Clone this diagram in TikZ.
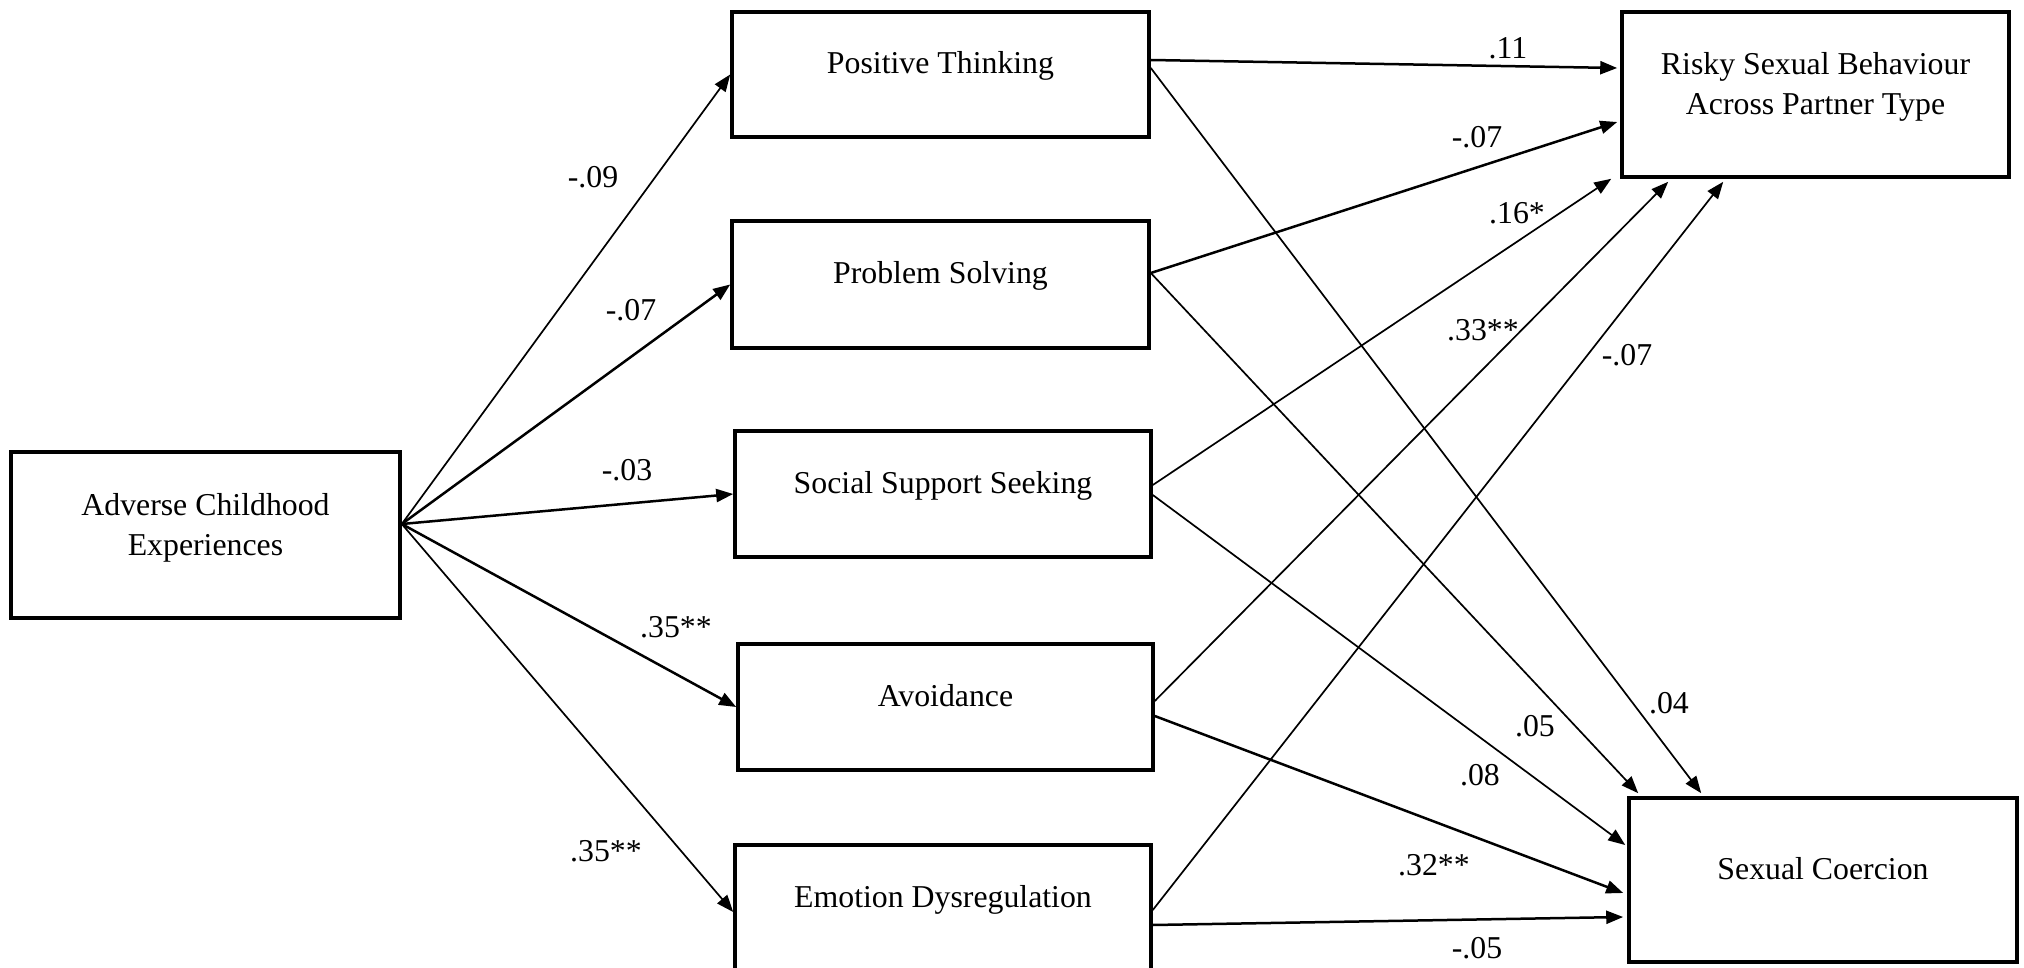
\documentclass[tikz,border=0pt]{standalone}
\usepackage{fontspec}
\setmainfont{Liberation Serif}
\usetikzlibrary{arrows.meta,calc}
\newcommand{\bxt}[2]{\smash{\raisebox{#1}{\begin{tabular}[b]{@{}c@{}}#2\end{tabular}}}}
\begin{document}
\begin{tikzpicture}[x=0.5pt,y=-0.5pt,
  font=\fontsize{15.9}{20}\selectfont,
  box/.style={draw,line width=1.8pt,inner sep=0pt},
  thinarr/.style={line width=0.85pt,-{Triangle[length=8.5pt,width=6.5pt]}},
  thickarr/.style={line width=1.25pt,-{Triangle[length=8.5pt,width=6.5pt]}},
  lab/.style={inner sep=0pt}]
\useasboundingbox (0,0) rectangle (2024,968);
% boxes
\node[box,minimum width=194.5pt,minimum height=83pt] (ace) at (205.5,535) {\bxt{-10pt}{Adverse Childhood\\Experiences}};
\node[box,minimum width=208.5pt,minimum height=62.5pt] (pt) at (940.5,74.5) {\bxt{0.5pt}{Positive Thinking}};
\node[box,minimum width=208.5pt,minimum height=63.5pt] (ps) at (940.5,284.5) {\bxt{0.5pt}{Problem Solving}};
\node[box,minimum width=208pt,minimum height=63pt] (sss) at (943,494) {\bxt{0.5pt}{Social Support Seeking}};
\node[box,minimum width=207.5pt,minimum height=63pt] (av) at (945.5,707) {\bxt{0.5pt}{Avoidance}};
\node[box,minimum width=208pt,minimum height=63pt] (ed) at (943,908) {\bxt{0.5pt}{Emotion Dysregulation}};
\node[box,minimum width=193.5pt,minimum height=82.5pt] (rsb) at (1815.5,94.5) {\bxt{-10pt}{Risky Sexual Behaviour\\Across Partner Type}};
\node[box,minimum width=194pt,minimum height=82pt] (sc) at (1823,880) {\bxt{0.5pt}{Sexual Coercion}};
% ACE arrows
\coordinate (a0) at ($(ace.east)+(0,-11)$);
\draw[thinarr] (a0) -- (pt.west);
\draw[thickarr] (a0) -- (ps.west);
\draw[thickarr] (a0) -- (sss.west);
\draw[thickarr] (a0) -- (av.west);
\draw[thinarr] (a0) -- ($(ed.west)+(0,4)$);
% to Risky
\draw[thickarr] ($(pt.east)+(0,-14.5)$) -- ($(rsb.west)+(-3,-26.5)$);
\draw[thickarr] ($(ps.east)+(0,-11.5)$) -- ($(rsb.west)+(-3,27.5)$);
\draw[thinarr] ($(sss.east)+(0,-9)$) -- ($(rsb.south west)+(-9,0)$);
\draw[thinarr] ($(av.east)+(0,-6)$) -- ($(rsb.south west)+(48,3)$);
\draw[thinarr] ($(ed.east)+(0,2)$) -- ($(rsb.south west)+(103,3)$);
% to Sexual Coercion
\draw[thinarr] ($(pt.east)+(0,-6.5)$) -- ($(sc.north west)+(74,-3)$);
\draw[thinarr] ($(ps.east)+(0,-11.5)$) -- ($(sc.north west)+(11,-3)$);
\draw[thinarr] ($(sss.east)+(0,1)$) -- ($(sc.west)+(-2,-35)$);
\draw[thickarr] ($(av.east)+(0,9)$) -- ($(sc.west)+(-4,13)$);
\draw[thickarr] ($(ed.east)+(0,17)$) -- ($(sc.west)+(-4,37)$);
% labels
\node[lab] (l1) at (593,177) {-.09};
\node[lab] (l2) at (631,310) {-.07};
\node[lab] (l3) at (627,470) {-.03};
\node[lab] (l4) at (676,627) {.35**};
\node[lab] (l5) at (606,851) {.35**};
\node[lab] (l6) at (1508,48) {.11};
\node[lab] (l7) at (1477,137) {-.07};
\node[lab] (l8) at (1517,213) {.16*};
\node[lab] (l9) at (1483,330) {.33**};
\node[lab] (l10) at (1627,355) {-.07};
\node[lab] (l11) at (1669,703) {.04};
\node[lab] (l12) at (1535,726) {.05};
\node[lab] (l13) at (1480,775) {.08};
\node[lab] (l14) at (1434,865) {.32**};
\node[lab] (l15) at (1477,948) {-.05};
\end{tikzpicture}
\end{document}
